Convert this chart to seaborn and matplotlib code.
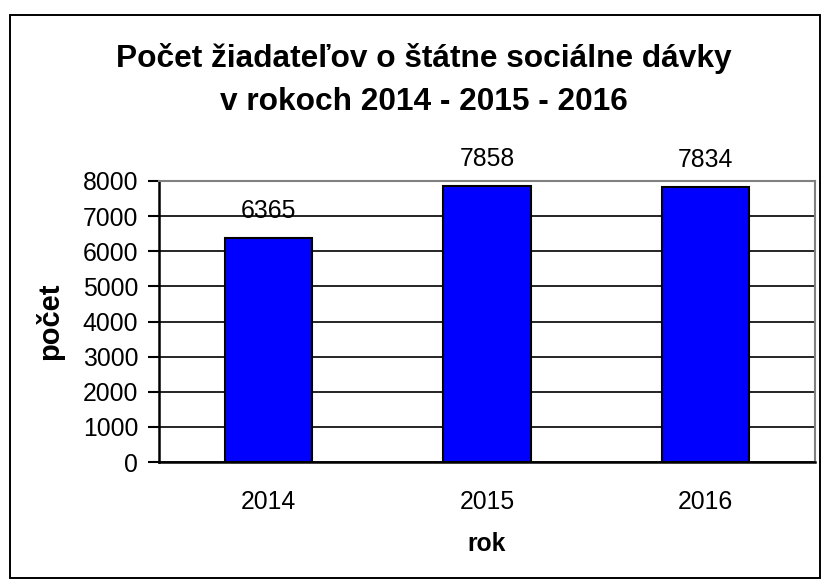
import matplotlib
matplotlib.use("Agg")
import matplotlib.pyplot as plt
import seaborn as sns
import pandas as pd
from matplotlib.patches import Rectangle

years = ["2014", "2015", "2016"]
counts = [6365, 7858, 7834]
yticks = [0, 1000, 2000, 3000, 4000, 5000, 6000, 7000, 8000]
title = "Počet žiadateľov o štátne sociálne dávky\nv rokoch 2014 - 2015 - 2016"

sns.set_style("white")
plt.rcParams['font.family'] = ['Liberation Sans', 'DejaVu Sans']
plt.rcParams['text.color'] = 'black'
plt.rcParams['axes.labelcolor'] = 'black'
plt.rcParams['xtick.color'] = 'black'
plt.rcParams['ytick.color'] = 'black'

W, H = 822, 583
fig = plt.figure(figsize=(W/100, H/100), dpi=100)
fig.patch.set_facecolor("white")

# outer border
fig.add_artist(Rectangle((10/W, 1-578/H), (820-10)/W, (578-15)/H, transform=fig.transFigure,
                         fill=False, edgecolor="black", linewidth=1.4))

left, right, top, bottom = 159, 815, 181, 462
ax = fig.add_axes([left/W, 1-bottom/H, (right-left)/W, (bottom-top)/H])

df = pd.DataFrame({"rok": years, "pocet": counts})
sns.barplot(data=df, x="rok", y="pocet", color="#0000FF", width=0.40,
            edgecolor="black", linewidth=1.5, saturation=1, ax=ax, zorder=3)

fs = 17.8
ax.set_ylim(0, 8000)
ax.set_xlim(-0.5, 2.5)
ax.set_yticks(yticks)
ax.set_yticklabels([str(v) for v in yticks], fontsize=fs)
ax.yaxis.grid(True, color="black", linewidth=1.2, zorder=0)
ax.set_axisbelow(True)

ax.set_xticks([0, 1, 2])
ax.set_xticklabels(years, fontsize=fs)
ax.tick_params(axis="x", length=0, pad=20)
ax.set_xticks([0.5, 1.5, 2.5, -0.5], minor=True)
ax.tick_params(axis="x", which="minor", length=8, width=1.5, direction="out", color="black")
ax.tick_params(axis="y", length=8, width=1.5, direction="out", color="black", pad=7, left=True)

for side in ["left", "bottom"]:
    ax.spines[side].set_color("black")
    ax.spines[side].set_linewidth(1.8)
for side in ["top", "right"]:
    ax.spines[side].set_color("#808080")
    ax.spines[side].set_linewidth(1.5)

for i, v in enumerate(counts):
    ax.annotate(str(v), (i, v), xytext=(0, 11), textcoords="offset points",
                ha="center", va="bottom", fontsize=fs)

ax.set_xlabel("rok", fontsize=fs, fontweight="bold")
ax.xaxis.set_label_coords(0.5, (bottom - 532) / (bottom - top))
ax.set_ylabel("počet", fontsize=21, fontweight="bold")
ax.yaxis.set_label_coords((64 - left) / (right - left), 0.5)

fig.text(424/W, 1-80/H, title, ha="center", va="center", fontsize=22.8,
         fontweight="bold", linespacing=1.55)

fig.savefig("out.png", dpi=100, facecolor="white")
